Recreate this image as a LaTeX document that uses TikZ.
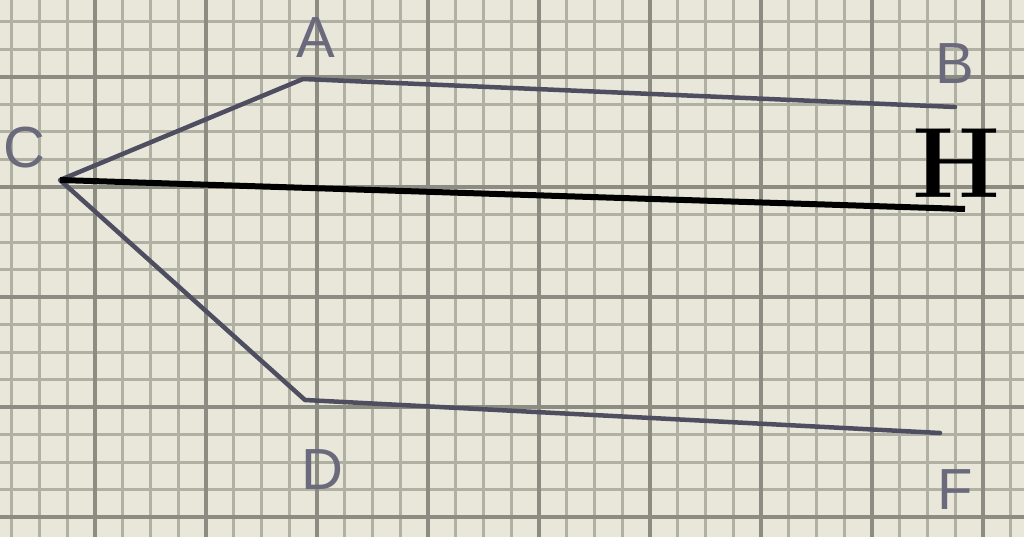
\documentclass[tikz,border=0pt]{standalone}
\usepackage{fontspec}
\newfontfamily\handfont{Liberation Sans}
\definecolor{paper}{HTML}{E8E7DA}
\definecolor{minorgrid}{HTML}{B0B0A3}
\definecolor{majorgrid}{HTML}{8C8C82}
\definecolor{pencil}{HTML}{4E4E60}
\definecolor{labelgray}{HTML}{6A6A7C}
\tikzset{
  pencilline/.style={draw=pencil, line width=4.5pt, line cap=round, line join=round},
  inkline/.style={draw=black, line width=6pt},
  handlabel/.style={text=labelgray, font=\handfont\fontsize{58}{58}\selectfont, inner sep=0pt},
  boldlabel/.style={text=black, font=\bfseries\fontsize{100}{100}\selectfont, inner sep=0pt},
}
\begin{document}
\begin{tikzpicture}[x=1pt, y=-1pt]
  \fill[paper] (0,0) rectangle (1024,537);
  \useasboundingbox (0,0) rectangle (1024,537);
  % minor grid
  \foreach \i in {-3,...,33} {
    \draw[minorgrid, line width=3pt] ({95+\i*27.75},0) -- ({95+\i*27.75},537);
  }
  \foreach \j in {-2,...,18} {
    \draw[minorgrid, line width=3pt] (0,{77+\j*27.5}) -- (1024,{77+\j*27.5});
  }
  % major grid
  \foreach \i in {0,...,8} {
    \draw[majorgrid, line width=4pt] ({95+\i*111},0) -- ({95+\i*111},537);
  }
  \foreach \j in {0,...,4} {
    \draw[majorgrid, line width=4pt] (0,{77+\j*110}) -- (1024,{77+\j*110});
  }
  % vertices
  \coordinate (C) at (60,180);
  \coordinate (A) at (303,79);
  \coordinate (Bend) at (955,107);
  \coordinate (Hend) at (965,209);
  \coordinate (D) at (305,400);
  \coordinate (Fend) at (940,433);
  % lines
  \draw[pencilline] (Bend) -- (A) -- (C) -- (D) -- (Fend);
  \draw[inkline] (C) -- (Hend);
  % labels
  \node[handlabel] (la) at (316,38) {A};
  \node[handlabel] (lb) at (955,64) {B};
  \node[handlabel] (lc) at (24,148) {C};
  \node[handlabel] (ld) at (322,470) {D};
  \node[handlabel] (lf) at (955,490) {F};
  \node[boldlabel] (lh) at (956,163) {H};
\end{tikzpicture}
\end{document}
